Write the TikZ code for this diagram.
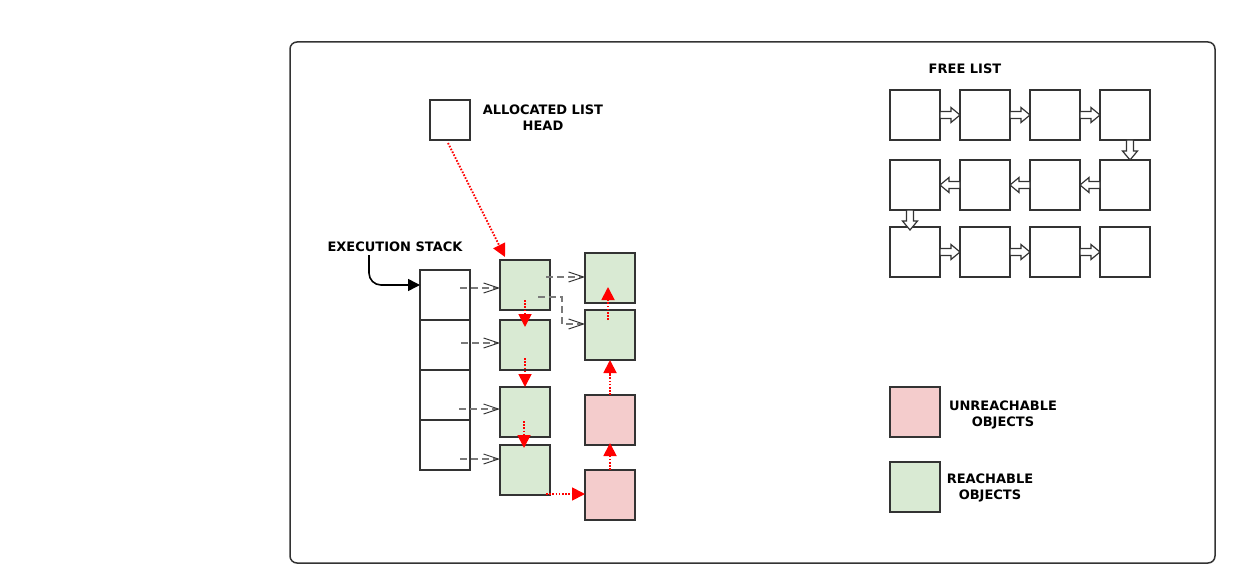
\documentclass[tikz,border=0pt]{standalone}
\usepackage{fontspec}
\setmainfont{DejaVu Sans}
\usetikzlibrary{arrows.meta,calc}
\definecolor{edge}{HTML}{333333}
\definecolor{reach}{HTML}{D9EAD3}
\definecolor{unreach}{HTML}{F4CCCC}
\definecolor{ptr}{HTML}{7A7A7A}
\begin{document}
\begin{tikzpicture}[x=1pt,y=-1pt,
  obj/.style={draw=edge, line width=1.6pt, minimum size=50pt, inner sep=0pt, outer sep=0pt},
  live/.style={obj, fill=reach},
  dead/.style={obj, fill=unreach},
  lbl/.style={font=\bfseries\fontsize{13}{16.5}\selectfont, align=center, inner sep=0pt},
  ref/.style={draw=ptr, line width=1.3pt, dash pattern=on 7pt off 4pt,
    -{Straight Barb[length=15pt,width=10pt,line width=0.9pt,color=edge]}},
  trace/.style={draw=red, line width=1.8pt, dash pattern=on 1.6pt off 1.6pt,
    -{Triangle[length=13pt,width=13pt]}},
  hollow/.style={draw=edge, fill=white, line width=1.2pt,
    to path={let \p1=(\tikztostart), \p2=(\tikztotarget),
      \p3=($(\p2)!9pt!(\p1)$) in
      ($(\p1)!3.5pt!90:(\p2)$) -- ($(\p3)!3.5pt!-90:(\p1)$) -- ($(\p3)!7.5pt!-90:(\p1)$)
      -- (\p2) -- ($(\p3)!7.5pt!90:(\p1)$) -- ($(\p3)!3.5pt!90:(\p1)$)
      -- ($(\p1)!3.5pt!-90:(\p2)$) -- cycle}}
]
\useasboundingbox[fill=white] (0,0) rectangle (1235,583);
\draw[edge, line width=1.5pt, rounded corners=7pt] (290,42) rectangle (1215,563);

% allocated list head
\node[obj, minimum size=40pt] (head) at (450,120) {};
\node[lbl] (headlbl) at (543,117.5) {ALLOCATED LIST\\HEAD};

% execution stack
\node[lbl] (stacklbl) at (395,246.5) {EXECUTION STACK};
\coordinate (stacktop) at (369,255);
\foreach \i/\y in {1/295,2/345,3/395,4/445}
  \node[obj] (s\i) at (445,\y) {};

% reachable chain
\node[live] (g1) at (525,285) {};
\node[live] (g2) at (525,345) {};
\node[live] (g3) at (525,412) {};
\node[live] (g4) at (525,470) {};
\node[live] (ga) at (610,278) {};
\node[live] (gb) at (610,335) {};
\node[dead] (p1) at (610,420) {};
\node[dead] (p2) at (610,495) {};

% free list
\node[lbl] (freelbl) at (965,69) {FREE LIST};
\foreach \r/\y in {1/115,2/185,3/252}
  \foreach \c/\x in {1/915,2/985,3/1055,4/1125}
    \node[obj] (f\r\c) at (\x,\y) {};

% legend
\node[dead] (kdead) at (915,412) {};
\node[live] (klive) at (915,487) {};
\node[lbl] (kdeadlbl) at (1003,415) {UNREACHABLE\\OBJECTS};
\node[lbl] (klivelbl) at (990,488) {REACHABLE\\OBJECTS};

% stack -> objects
\draw[black, line width=1.6pt, rounded corners=12pt, -{Triangle[length=12pt,width=12pt]}]
  (stacktop) |- ([shift={(0,-10)}]s1.west);
\draw[ref] ([shift={(-10,-7)}]s1.east) -- ([shift={(0,3)}]g1.west);
\draw[ref] ([shift={(-9,-2)}]s2.east) -- ([shift={(0,-2)}]g2.west);
\draw[ref] ([shift={(-11,14)}]s3.east) -- ([shift={(0,-3)}]g3.west);
\draw[ref] ([shift={(-10,14)}]s4.east) -- ([shift={(0,-11)}]g4.west);
\draw[ref] ([shift={(-4,-8)}]g1.east) -- ([shift={(0,-1)}]ga.west);
\draw[ref] ([shift={(-12,12)}]g1.east) -- ++(24,0) |- ([shift={(0,-11)}]gb.west);

% mark traversal
\draw[trace] ([shift={(-2,3)}]head.south) -- ([shift={(-20,-3)}]g1.north);
\draw[trace] ([shift={(0,15)}]g1.center) -- ([shift={(0,7)}]g2.north);
\draw[trace] ([shift={(0,13)}]g2.center) -- (g3.north);
\draw[trace] ([shift={(-1,9)}]g3.center) -- ([shift={(-1,3)}]g4.north);
\draw[trace] ([shift={(-4,24)}]g4.east) -- ([shift={(0,-1)}]p2.west);
\draw[trace] (p2.north) -- ([shift={(0,-2)}]p1.south);
\draw[trace] (p1.north) -- (gb.south);
\draw[trace] ([shift={(-2,-15)}]gb.center) -- ([shift={(-2,9)}]ga.center);

% free list links
\draw[hollow] (f11.east) to (f12.west);
\draw[hollow] (f12.east) to (f13.west);
\draw[hollow] (f13.east) to (f14.west);
\draw[hollow] ([shift={(5,0)}]f14.south) to ([shift={(5,0)}]f24.north);
\draw[hollow] (f24.west) to (f23.east);
\draw[hollow] (f23.west) to (f22.east);
\draw[hollow] (f22.west) to (f21.east);
\draw[hollow] ([shift={(-5,0)}]f21.south) to ([shift={(-5,3)}]f31.north);
\draw[hollow] (f31.east) to (f32.west);
\draw[hollow] (f32.east) to (f33.west);
\draw[hollow] (f33.east) to (f34.west);
\end{tikzpicture}
\end{document}
